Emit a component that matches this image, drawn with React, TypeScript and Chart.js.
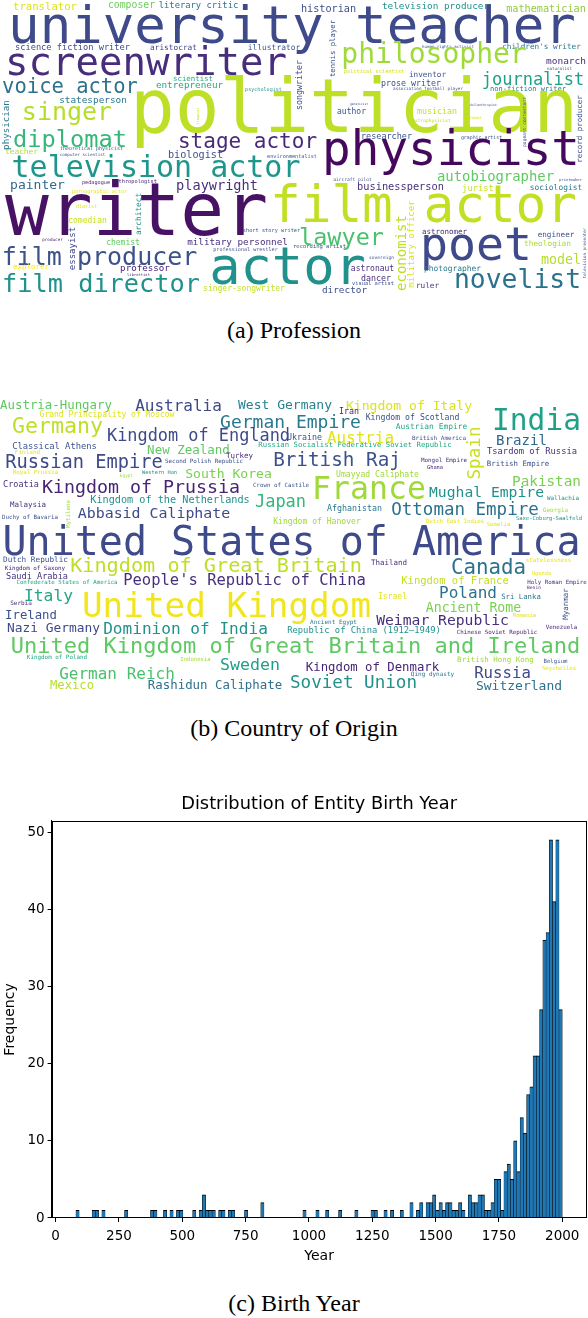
import React, { useEffect, useRef } from "react";
import { Chart, registerables } from "chart.js";

Chart.register(...registerables);

// ---------- (c) Birth year histogram data ----------
const binStart = 80; // first bin edge (year)
const binWidth = 12.8; // years per bin (150 bins up to 2000)
const binCounts = [
  1, 0, 0, 0, 0, 1, 1, 0, 1, 0,
  0, 0, 0, 0, 0, 1, 0, 0, 0, 0,
  0, 0, 0, 1, 1, 0, 0, 1, 0, 1,
  0, 1, 1, 0, 0, 0, 1, 0, 1, 3,
  1, 1, 1, 0, 1, 1, 0, 1, 1, 0,
  0, 0, 1, 0, 0, 0, 0, 2, 0, 0,
  0, 0, 0, 0, 0, 0, 0, 0, 0, 0,
  1, 0, 0, 0, 1, 0, 0, 1, 0, 0,
  0, 1, 0, 0, 0, 0, 1, 0, 0, 0,
  0, 1, 1, 0, 0, 1, 0, 1, 0, 0,
  1, 0, 0, 2, 0, 1, 2, 0, 2, 2,
  3, 1, 2, 1, 2, 2, 1, 1, 2, 1,
  0, 3, 2, 2, 3, 3, 1, 1, 2, 5,
  5, 1, 6, 7, 5, 10, 6, 13, 11, 16,
  17, 21, 21, 27, 36, 37, 49, 41, 49, 27,
];
const xTickStep = 250;
const yTickStep = 10;
const xRange = [-16, 2096];
const yRange = [0, 51.45];

// ---------- (a) Profession word cloud: [word, size, colour, x, y, vertical] ----------
const professionWords = [
  ["translator", 10.6, "#dde318", 45, 10, 0],
  ["composer", 9.8, "#6ccd5a", 131.5, 8, 0],
  ["literary critic", 8.8, "#2c718e", 198.5, 8, 0],
  ["university teacher", 52.4, "#3e4a89", 292, 43, 0],
  ["historian", 10.2, "#3b528b", 328.5, 12, 0],
  ["television producer", 9.4, "#20928c", 435.5, 9, 0],
  ["mathematician", 10.2, "#93ca3e", 546, 12, 0],
  ["science fiction writer", 8.7, "#3e4c8a", 72.5, 50, 0],
  ["aristocrat", 7.8, "#414487", 173.5, 50, 0],
  ["illustrator", 7.9, "#3b528b", 274, 50, 0],
  ["human rights activist", 4.1, "#3b528b", 448, 48, 0],
  ["children's writer", 7.7, "#2a788e", 541.5, 49, 0],
  ["philosopher", 28, "#9fda3a", 434, 63, 0],
  ["monarch", 9.5, "#472d7b", 566, 64, 0],
  ["screenwriter", 39, "#472d7b", 146, 75, 0],
  ["political scientist", 5.3, "#d2e21b", 374, 73, 0],
  ["naturalist", 4.2, "#3b528b", 559.5, 70, 0],
  ["inventor", 7.7, "#3b528b", 427.5, 77, 0],
  ["journalist", 17, "#1fa187", 533, 85, 0],
  ["voice actor", 20.5, "#2c728e", 70, 93, 0],
  ["scientist", 7.4, "#27ad81", 193, 81, 0],
  ["entrepreneur", 9.3, "#25a982", 189.5, 88, 0],
  ["psychologist", 5.1, "#21918c", 263.5, 91, 0],
  ["prose writer", 8.3, "#3b528b", 411, 86, 0],
  ["association football player", 4.3, "#3b528b", 428, 90, 0],
  ["non-fiction writer", 7, "#2a788e", 528, 91, 0],
  ["statesperson", 9.4, "#2a788e", 93, 103, 0],
  ["singer", 25, "#b5de2b", 67, 120, 0],
  ["author", 8, "#3b528b", 351.5, 114, 0],
  ["geneticist", 3, "#3b528b", 359, 105, 0],
  ["musician", 8.3, "#c2df23", 437, 114, 0],
  ["philanthropist", 3.3, "#3b528b", 483, 106, 0],
  ["astrophysicist", 4.6, "#b8de29", 431.5, 122, 0],
  ["drawer", 4.2, "#e5e419", 474.5, 119, 0],
  ["politician", 74.4, "#bddf26", 354, 132, 0],
  ["diplomat", 23.7, "#35b779", 70, 147, 0],
  ["stage actor", 21, "#482878", 247.5, 148, 0],
  ["researcher", 8.5, "#3b528b", 386.5, 139, 0],
  ["graphic artist", 4.9, "#3b528b", 481.5, 139, 0],
  ["theoretical physicist", 5, "#3b528b", 91.5, 150, 0],
  ["computer scientist", 4.2, "#3b528b", 82.5, 156, 0],
  ["teacher", 7.8, "#b5de2b", 21.5, 154, 0],
  ["physicist", 47.6, "#46085c", 451, 165, 0],
  ["biologist", 10.2, "#3b528b", 195.5, 158, 0],
  ["environmentalist", 5.2, "#3b528b", 292, 158, 0],
  ["television actor", 30, "#1f968b", 156, 177, 0],
  ["aircraft pilot", 4.6, "#3b528b", 352.5, 181, 0],
  ["autobiographer", 13.9, "#5ec962", 495.5, 181, 0],
  ["printmaker", 3.8, "#3b528b", 570.5, 181, 0],
  ["painter", 13, "#31688e", 37.5, 189, 0],
  ["pedagogue", 5.2, "#482475", 96, 184, 0],
  ["anthropologist", 5.3, "#482475", 134.5, 183, 0],
  ["playwright", 13.6, "#472f7d", 217, 190, 0],
  ["businessperson", 10.3, "#472f7d", 400.5, 190, 0],
  ["jurist", 8.8, "#c8e020", 478, 191, 0],
  ["sociologist", 7.9, "#2a788e", 556, 190, 0],
  ["pornographic actor", 5.1, "#e7e419", 99.5, 193, 0],
  ["diarist", 5, "#e7e419", 86.5, 208, 0],
  ["film actor", 51, "#c2df23", 423.5, 222, 0],
  ["writer", 72.8, "#471164", 136.5, 235, 0],
  ["comedian", 8, "#c8e020", 87.5, 223, 0],
  ["short story writer", 5.3, "#3b528b", 271.5, 232, 0],
  ["astronomer", 7.5, "#472d7b", 444.5, 234, 0],
  ["engineer", 7.6, "#3b528b", 556, 237, 0],
  ["producer", 4.3, "#482475", 52.5, 241, 0],
  ["chemist", 8, "#5ec962", 123, 245, 0],
  ["military personnel", 9.3, "#472f7d", 237.5, 245, 0],
  ["lawyer", 23.5, "#4ac16d", 341.5, 245, 0],
  ["theologian", 7.8, "#a8db34", 547.5, 246, 0],
  ["recording artist", 5.5, "#3b528b", 319.5, 248, 0],
  ["professional wrestler", 5.1, "#3b528b", 245.5, 251, 0],
  ["film producer", 25, "#3b528b", 99.5, 265, 0],
  ["poet", 46.5, "#3e4a89", 476, 260, 0],
  ["sovereign", 4.6, "#3b528b", 381.5, 259, 0],
  ["model", 13.3, "#b5de2b", 561, 264, 0],
  ["explorer", 7.5, "#fde725", 31, 269, 0],
  ["professor", 9.2, "#482475", 145, 271, 0],
  ["astronaut", 8, "#472f7d", 372.5, 271, 0],
  ["photographer", 7.9, "#2a788e", 452.5, 271, 0],
  ["librettist", 3.8, "#482475", 138.5, 276, 0],
  ["dancer", 8.3, "#472f7d", 376, 281, 0],
  ["visual artist", 5.4, "#3b528b", 373, 285, 0],
  ["novelist", 26.4, "#2c728e", 517.5, 288, 0],
  ["ruler", 7.7, "#472f7d", 427.5, 288, 0],
  ["film director", 25.3, "#21918c", 101, 292, 0],
  ["actor", 52, "#21918c", 287.5, 284, 0],
  ["singer-songwriter", 8, "#c2df23", 244, 291, 0],
  ["director", 9.4, "#3b528b", 344.5, 293, 0],
  ["physician", 9.2, "#2a788e", 9, 125, 1],
  ["tennis player", 7.3, "#3b528b", 334.5, 48.5, 1],
  ["songwriter", 8.3, "#3b528b", 302, 85, 1],
  ["pageant contestant", 4.6, "#3b528b", 526, 122, 1],
  ["record producer", 7.5, "#3b528b", 582, 129, 1],
  ["linguist", 3.5, "#c8e020", 199, 116, 1],
  ["architect", 7.8, "#21918c", 141, 214, 1],
  ["essayist", 9, "#3e4a89", 75, 248.5, 1],
  ["economist", 14, "#bddf26", 406, 253, 1],
  ["military officer", 9.1, "#dde318", 414, 244, 1],
  ["television presenter", 4.2, "#3b528b", 586, 253, 1],
];

// ---------- (b) Country of origin word cloud: [word, size, colour, x, y, vertical] ----------
const countryWords = [
  ["Austria-Hungary", 12.4, "#5ec962", 56, 409, 0],
  ["Australia", 16, "#3e4a89", 178.5, 411, 0],
  ["West Germany", 13, "#26828e", 285, 409, 0],
  ["Kingdom of Italy", 13.1, "#dde318", 409, 410, 0],
  ["Iran", 8.3, "#482475", 349, 414, 0],
  ["India", 29.5, "#1fa187", 536.5, 430, 0],
  ["Grand Principality of Moscow", 8, "#dde318", 107, 417, 0],
  ["Germany", 21.6, "#bddf26", 57.5, 433, 0],
  ["German Empire", 18, "#2a788e", 290.5, 428, 0],
  ["Kingdom of Scotland", 8.2, "#3b528b", 412.5, 420, 0],
  ["Austrian Empire", 7.9, "#22a884", 431.5, 429, 0],
  ["Kingdom of England", 16.9, "#3e4a89", 198.5, 441, 0],
  ["Ukraine", 8.3, "#3b528b", 304.5, 440, 0],
  ["Austria", 15.9, "#e2e418", 360.5, 443, 0],
  ["British America", 6, "#3b528b", 439, 440, 0],
  ["Brazil", 14.1, "#31688e", 521.5, 445, 0],
  ["Classical Athens", 8.8, "#3b528b", 54.5, 449, 0],
  ["Russian Socialist Federative Soviet Republic", 7.3, "#22a884", 355, 447, 0],
  ["New Zealand", 12.5, "#5ec962", 188.5, 454, 0],
  ["Finland", 6, "#e5e419", 27.5, 454, 0],
  ["Tsardom of Russia", 8.8, "#472f7d", 532, 454, 0],
  ["Turkey", 7.5, "#472f7d", 239.5, 458, 0],
  ["Russian Empire", 18.7, "#3e4a89", 84, 468, 0],
  ["British Raj", 19.3, "#3b528b", 337, 466, 0],
  ["Second Polish Republic", 5.9, "#3b528b", 204, 463, 0],
  ["Mongol Empire", 5.9, "#472f7d", 444, 462, 0],
  ["British Empire", 7.4, "#3b528b", 518, 466, 0],
  ["Ghana", 5.4, "#482475", 435, 469, 0],
  ["Royal Prussia", 5.8, "#e5e419", 35.5, 474, 0],
  ["Western Han", 5.3, "#21918c", 159.5, 474, 0],
  ["Egypt", 4.5, "#a0da39", 126.5, 477, 0],
  ["South Korea", 13.1, "#7ad151", 228.5, 478, 0],
  ["Umayyad Caliphate", 8.1, "#a0da39", 377.5, 477, 0],
  ["Pakistan", 14.3, "#7ad151", 546.5, 486, 0],
  ["Croatia", 8.5, "#472f7d", 21, 487, 0],
  ["Crown of Castile", 5.8, "#3b528b", 281, 487, 0],
  ["Kingdom of Prussia", 18.3, "#482475", 141, 493, 0],
  ["France", 31.5, "#a0da39", 369, 499, 0],
  ["Mughal Empire", 14.7, "#21918c", 486.5, 497, 0],
  ["Wallachia", 5.9, "#21918c", 563, 500, 0],
  ["Kingdom of the Netherlands", 10.2, "#21918c", 170, 503, 0],
  ["Japan", 17, "#35b779", 280.5, 507, 0],
  ["Malaysia", 7.5, "#472f7d", 28, 507, 0],
  ["Afghanistan", 8.3, "#2a788e", 354.5, 511, 0],
  ["Ottoman Empire", 17.5, "#2c728e", 465, 515, 0],
  ["Georgia", 6, "#a0da39", 555.5, 512, 0],
  ["Abbasid Caliphate", 14.9, "#3e4a89", 154, 518, 0],
  ["Duchy of Bavaria", 5.8, "#3b528b", 30, 519, 0],
  ["Kingdom of Hanover", 8.1, "#a0da39", 317, 524, 0],
  ["Dutch East Indies", 5.7, "#e5e419", 455, 523, 0],
  ["Somalia", 5.6, "#e5e419", 498.5, 526, 0],
  ["Saxe-Coburg-Saalfeld", 5.5, "#21918c", 549, 520, 0],
  ["United States of America", 40, "#3e4a89", 291.5, 555, 0],
  ["Dutch Republic", 7.7, "#3b528b", 35.5, 562, 0],
  ["Thailand", 7.5, "#472f7d", 389, 565, 0],
  ["statelessness", 5.8, "#e5e419", 548.5, 562, 0],
  ["Kingdom of Great Britain", 20.2, "#bddf26", 216, 572, 0],
  ["Kingdom of Saxony", 5.9, "#482475", 35, 570, 0],
  ["Canada", 20.8, "#2c728e", 488.5, 574, 0],
  ["Uganda", 5.3, "#e5e419", 541.5, 575, 0],
  ["Saudi Arabia", 8.6, "#472f7d", 37, 579, 0],
  ["Confederate States of America", 5.8, "#22a884", 67, 584, 0],
  ["People's Republic of China", 15.5, "#472f7d", 244.5, 585, 0],
  ["Kingdom of France", 10.5, "#c2df23", 455, 584, 0],
  ["Holy Roman Empire", 5.8, "#472f7d", 557, 584, 0],
  ["Benin", 4.6, "#482475", 534, 589, 0],
  ["Poland", 16, "#2c728e", 468, 598, 0],
  ["Israel", 8, "#e5e419", 392.5, 599, 0],
  ["Sri Lanka", 7.3, "#2a788e", 521, 599, 0],
  ["Italy", 16.3, "#22a884", 48.5, 601, 0],
  ["Serbia", 6, "#472f7d", 21, 605, 0],
  ["Ancient Rome", 13.2, "#7ad151", 473.5, 612, 0],
  ["United Kingdom", 34.3, "#f1e51d", 226.5, 617, 0],
  ["Romania", 5.5, "#e5e419", 524.5, 617, 0],
  ["Ireland", 12.3, "#3b528b", 31, 619, 0],
  ["Ancient Egypt", 6, "#2a788e", 333.5, 624, 0],
  ["Weimar Republic", 14.7, "#472f7d", 442.5, 625, 0],
  ["Venezuela", 5.8, "#482475", 561.5, 629, 0],
  ["Nazi Germany", 12.9, "#3e4a89", 53.5, 632, 0],
  ["Dominion of India", 16.1, "#21918c", 185.5, 634, 0],
  ["Republic of China (1912–1949)", 8.8, "#21918c", 364, 633, 0],
  ["Chinese Soviet Republic", 5.8, "#482475", 497, 634, 0],
  ["United Kingdom of Great Britain and Ireland", 22, "#5ec962", 295.5, 653, 0],
  ["Kingdom of Poland", 5.9, "#22a884", 57, 659, 0],
  ["Indonesia", 5.6, "#a0da39", 195.5, 661, 0],
  ["British Hong Kong", 7.5, "#a0da39", 495.5, 662, 0],
  ["Belgium", 5.7, "#3b528b", 555.5, 663, 0],
  ["Sweden", 16.6, "#1f9e89", 250, 670, 0],
  ["Kingdom of Denmark", 12.3, "#482475", 372.5, 671, 0],
  ["Seychelles", 5.7, "#e5e419", 559, 670, 0],
  ["Qing dynasty", 6, "#2a788e", 432.5, 676, 0],
  ["Russia", 15.7, "#3e4a89", 502.5, 678, 0],
  ["German Reich", 16, "#4ac16d", 117, 679, 0],
  ["Mexico", 12.2, "#b5de2b", 72, 689, 0],
  ["Rashidun Caliphate", 12.4, "#2c728e", 215, 689, 0],
  ["Soviet Union", 17.6, "#21918c", 353.5, 688, 0],
  ["Switzerland", 13, "#2c728e", 519, 690, 0],
  ["Spain", 17.6, "#c8e020", 480, 453, 1],
  ["Mytilene", 5.8, "#a0da39", 69.5, 514, 1],
  ["Myanmar", 7.5, "#3b528b", 567.5, 604, 1],
];

const CLOUD_FONT = '"DejaVu Sans Mono", monospace';
const SANS = '"DejaVu Sans", sans-serif';

function makeCloud(canvas: HTMLCanvasElement, words: any[], yMin: number, yMax: number) {
  const wordPlugin = {
    id: "wordText",
    afterDatasetsDraw(chart: any) {
      const ctx = chart.ctx;
      const meta = chart.getDatasetMeta(0);
      meta.data.forEach((pt: any, i: number) => {
        const [text, size, color, , , vertical] = words[i];
        ctx.save();
        ctx.font = `${size}px ${CLOUD_FONT}`;
        ctx.fillStyle = color;
        ctx.textAlign = "center";
        ctx.textBaseline = "alphabetic";
        ctx.translate(pt.x, pt.y);
        if (vertical) ctx.rotate(-Math.PI / 2);
        ctx.fillText(text, 0, 0);
        ctx.restore();
      });
    },
  };
  return new Chart(canvas, {
    type: "scatter",
    data: {
      datasets: [
        {
          data: words.map((w) => ({ x: w[3], y: w[4] })),
          pointRadius: 0,
          pointHoverRadius: 0,
        },
      ],
    },
    options: {
      animation: false,
      responsive: false,
      events: [],
      layout: { padding: 0 },
      plugins: { legend: { display: false }, tooltip: { enabled: false } },
      scales: {
        x: { type: "linear", min: 0, max: 588, display: false },
        y: { type: "linear", min: yMin, max: yMax, reverse: true, display: false },
      },
    },
    plugins: [wordPlugin],
  } as any);
}

function makeHist(canvas: HTMLCanvasElement) {
  const framePlugin = {
    id: "frame",
    afterDraw(chart: any) {
      const { ctx, chartArea } = chart;
      ctx.save();
      ctx.strokeStyle = "#000";
      ctx.lineWidth = 1;
      const l = Math.round(chartArea.left) + 0.5;
      const r = Math.round(chartArea.right) - 0.5;
      const t = Math.round(chartArea.top) + 0.5;
      const b = Math.round(chartArea.bottom) - 0.5;
      ctx.strokeRect(l, t, r - l, b - t);
      ctx.restore();
    },
  };
  const tickFont = { family: SANS, size: 13.5 };
  const labelFont = { family: SANS, size: 14 };
  return new Chart(canvas, {
    type: "bar",
    data: {
      datasets: [
        {
          data: binCounts.map((c, i) => ({ x: binStart + (i + 0.5) * binWidth, y: c })),
          backgroundColor: "#1f77b4",
          borderColor: "#000",
          borderWidth: { top: 1, left: 0.5, right: 0.5, bottom: 0 },
          borderSkipped: false,
          barPercentage: 1,
          categoryPercentage: 1,
        },
      ],
    },
    options: {
      animation: false,
      responsive: false,
      events: [],
      layout: { padding: { left: 0, right: 1.4, top: 0, bottom: 0 } },
      plugins: {
        legend: { display: false },
        tooltip: { enabled: false },
        title: {
          display: true,
          fullSize: false,
          text: "Distribution of Entity Birth Year",
          color: "#000",
          font: { family: SANS, size: 17.8, weight: "normal" },
          padding: { top: 4, bottom: 5.6 },
        },
      },
      scales: {
        x: {
          type: "linear",
          min: xRange[0],
          max: xRange[1],
          offset: false,
          ticks: {
            stepSize: xTickStep,
            includeBounds: false,
            color: "#000",
            font: tickFont,
            padding: 6,
            maxRotation: 0,
            autoSkip: false,
            callback: (v: any) => String(v),
          },
          grid: { display: true, offset: false, drawOnChartArea: false, drawTicks: true, tickLength: 4, color: "#000" },
          border: { display: true, color: "#000", width: 1 },
          title: { display: true, text: "Year", color: "#000", font: labelFont, padding: { top: 0, bottom: 5 } },
          afterFit: (s: any) => {
            s.height = 52;
          },
        },
        y: {
          type: "linear",
          min: yRange[0],
          max: yRange[1],
          ticks: {
            stepSize: yTickStep,
            includeBounds: false,
            color: "#000",
            font: tickFont,
            padding: 3,
            callback: (v: any) => String(v),
          },
          grid: { display: true, drawOnChartArea: false, drawTicks: true, tickLength: 4, color: "#000" },
          border: { display: true, color: "#000", width: 1 },
          title: { display: true, text: "Frequency", color: "#000", font: labelFont, padding: { top: 2, bottom: 0 } },
          afterFit: (s: any) => {
            s.width = 51.6;
          },
        },
      },
    },
    plugins: [framePlugin],
  } as any);
}

const captionStyle = (cy: number): React.CSSProperties => ({
  position: "absolute",
  left: 0,
  width: 588,
  top: cy - 15,
  height: 30,
  lineHeight: "30px",
  textAlign: "center",
  fontFamily: '"Liberation Serif", "Times New Roman", serif',
  fontSize: 24,
  color: "#000",
});

export default function App() {
  const profRef = useRef<HTMLCanvasElement>(null);
  const countryRef = useRef<HTMLCanvasElement>(null);
  const histRef = useRef<HTMLCanvasElement>(null);

  useEffect(() => {
    document.body.style.margin = "0";
    const charts = [
      makeCloud(profRef.current as HTMLCanvasElement, professionWords, 0, 310),
      makeCloud(countryRef.current as HTMLCanvasElement, countryWords, 390, 700),
      makeHist(histRef.current as HTMLCanvasElement),
    ];
    return () => charts.forEach((c) => c.destroy());
  }, []);

  return (
    <div style={{ position: "absolute", left: 0, top: 0, width: 588, height: 1318, background: "#fff", overflow: "hidden" }}>
      <canvas ref={profRef} width={588} height={310} style={{ position: "absolute", left: 0, top: 0 }} />
      <div style={captionStyle(330)}>(a) Profession</div>
      <canvas ref={countryRef} width={588} height={310} style={{ position: "absolute", left: 0, top: 390 }} />
      <div style={captionStyle(728)}>(b) Country of Origin</div>
      <canvas ref={histRef} width={588} height={480} style={{ position: "absolute", left: 0, top: 790 }} />
      <div style={captionStyle(1303)}>(c) Birth Year</div>
    </div>
  );
}
